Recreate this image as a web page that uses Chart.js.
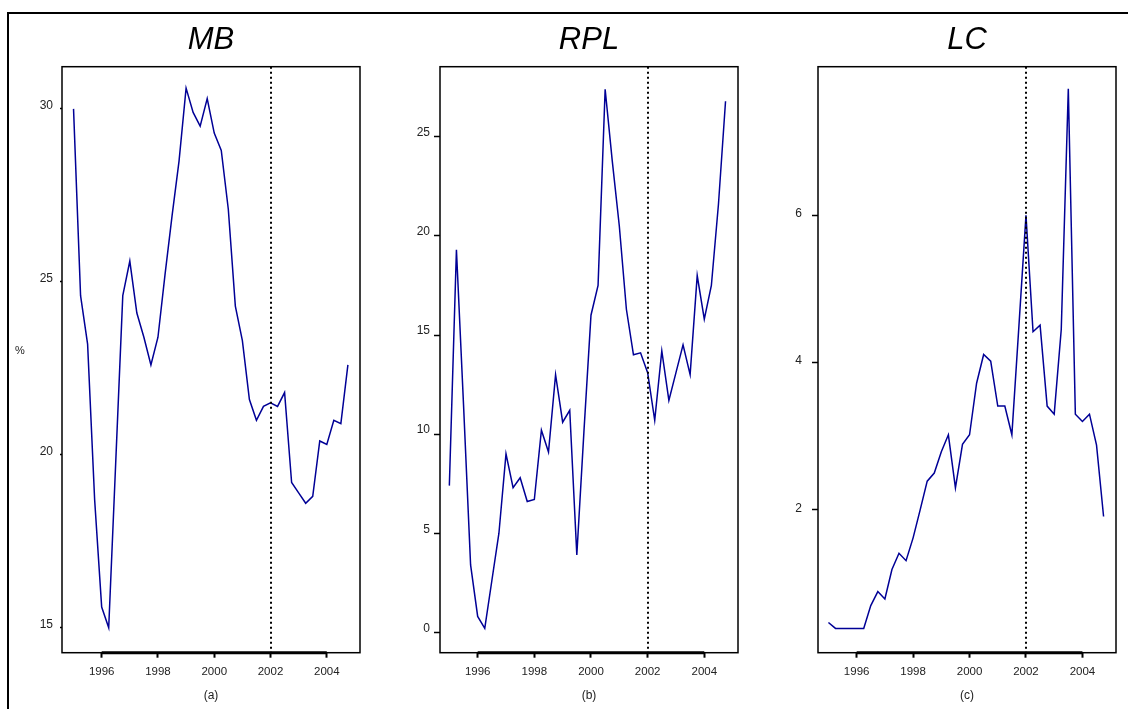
<!DOCTYPE html>
<html>
<head>
<meta charset="utf-8">
<script src="https://cdn.jsdelivr.net/npm/chart.js@4.4.1/dist/chart.umd.min.js"></script>
<style>
  html, body { margin: 0; padding: 0; background: #fff; width: 1128px; height: 709px; overflow: hidden; }
  #frame { position: absolute; left: 7px; top: 12px; width: 1300px; height: 900px; border: 2px solid #000; }
  canvas { position: absolute; top: 0; }
  #pct { position: absolute; left: 15px; top: 344px; font: 11px "Liberation Sans", Arial, sans-serif; color: #222; }
</style>
</head>
<body>
<div id="frame"></div>
<canvas id="mb" width="355" height="709" style="left:7px"></canvas>
<canvas id="rpl" width="355" height="709" style="left:385px"></canvas>
<canvas id="lc" width="355" height="709" style="left:762.7px"></canvas>
<div id="pct">%</div>
<script>
// quarterly data 1995Q1 .. 2004Q4
const years = [1995, 1996, 1997, 1998, 1999, 2000, 2001, 2002, 2003, 2004];
const quarters = [0, 0.25, 0.5, 0.75];

const mbValues = [30.0, 24.6, 23.2, 18.7, 15.6, 15.0, 19.8, 24.6, 25.6, 24.1,
                  23.4, 22.6, 23.4, 25.2, 26.9, 28.5, 30.6, 29.9, 29.5, 30.3,
                  29.3, 28.8, 27.1, 24.3, 23.3, 21.6, 21.0, 21.4, 21.5, 21.4,
                  21.8, 19.2, 18.9, 18.6, 18.8, 20.4, 20.3, 21.0, 20.9, 22.6];
const rplValues = [7.4, 19.3, 11.5, 3.4, 0.8, 0.2, 2.6, 5.0, 9.0, 7.3,
                   7.8, 6.6, 6.7, 10.2, 9.1, 13.0, 10.6, 11.2, 3.9, 10.1,
                   16.0, 17.5, 27.4, 23.8, 20.5, 16.3, 14.0, 14.1, 13.1, 10.7,
                   14.2, 11.7, 13.1, 14.5, 13.0, 18.0, 15.8, 17.5, 21.6, 26.8];
const lcValues = [0.47, 0.39, 0.39, 0.39, 0.39, 0.39, 0.70, 0.89, 0.79, 1.19,
                  1.41, 1.31, 1.62, 2.0, 2.39, 2.50, 2.79, 3.02, 2.30, 2.89,
                  3.02, 3.72, 4.11, 4.02, 3.41, 3.41, 3.02, 4.5, 6.0, 4.42,
                  4.51, 3.41, 3.30, 4.45, 7.72, 3.30, 3.20, 3.30, 2.88, 1.91];

const xTicks = [1996, 1998, 2000, 2002, 2004];
const mbTicks = [15, 20, 25, 30];
const rplTicks = [0, 5, 10, 15, 20, 25];
const lcTicks = [2, 4, 6];
const breakYear = 2002;

const times = [];
years.forEach(y => quarters.forEach(q => times.push(y + q)));

const FONT = '"Liberation Sans", Arial, sans-serif';

// box around plot, thick bottom axis segment, dotted break line
const framePlugin = {
  id: 'frame',
  afterDatasetsDraw(chart) {
    const ctx = chart.ctx;
    const a = chart.chartArea;
    const x = chart.scales.x;
    ctx.save();
    ctx.strokeStyle = '#000';
    ctx.lineWidth = 1.5;
    ctx.strokeRect(a.left, a.top, a.right - a.left, a.bottom - a.top);
    ctx.lineWidth = 3;
    ctx.beginPath();
    ctx.moveTo(x.getPixelForValue(xTicks[0]), a.bottom);
    ctx.lineTo(x.getPixelForValue(xTicks[xTicks.length - 1]), a.bottom);
    ctx.stroke();
    const bx = Math.round(x.getPixelForValue(breakYear));
    ctx.lineWidth = 2;
    ctx.setLineDash([2, 3]);
    ctx.beginPath();
    ctx.moveTo(bx, a.top);
    ctx.lineTo(bx, a.bottom);
    ctx.stroke();
    ctx.restore();
  }
};

function makePanel(id, title, sub, values, yTicks, yMin, yMax, xMin, xMax, yTickLen, yPad, yOff) {
  new Chart(document.getElementById(id), {
    type: 'line',
    data: {
      datasets: [{
        data: values.map((v, i) => ({ x: times[i], y: v })),
        borderColor: '#000096',
        borderWidth: 1.5,
        pointRadius: 0,
        tension: 0
      }]
    },
    options: {
      responsive: false,
      animation: false,
      devicePixelRatio: 1,
      layout: { padding: { left: 0, right: 2, top: 0, bottom: 0 } },
      plugins: {
        legend: { display: false },
        tooltip: { enabled: false },
        title: {
          display: true,
          fullSize: false,
          text: title,
          color: '#000',
          font: { family: FONT, size: 31, style: 'italic', weight: 'normal' },
          padding: { top: 21.4, bottom: 8.1 }
        }
      },
      scales: {
        x: {
          type: 'linear',
          min: xMin,
          max: xMax,
          afterBuildTicks: s => { s.ticks = xTicks.map(v => ({ value: v })); },
          afterFit: s => { s.height = 56.3; },
          border: { display: false },
          grid: { drawOnChartArea: false, drawTicks: true, tickLength: 5, tickColor: '#000', tickWidth: 2 },
          ticks: {
            color: '#222',
            font: { family: FONT, size: 11.5 },
            padding: 7,
            maxRotation: 0,
            callback: v => String(v)
          },
          title: {
            display: true,
            text: sub,
            color: '#222',
            font: { family: FONT, size: 12 },
            padding: { top: 0, bottom: 5.7 }
          }
        },
        y: {
          type: 'linear',
          min: yMin,
          max: yMax,
          afterBuildTicks: s => { s.ticks = yTicks.map(v => ({ value: v })); },
          afterFit: s => { s.width = 55; },
          border: { display: false },
          grid: { drawOnChartArea: false, drawTicks: true, tickLength: yTickLen, tickColor: '#000', tickWidth: 1.5 },
          ticks: {
            color: '#222',
            font: { family: FONT, size: 12 },
            padding: yPad,
            labelOffset: yOff,
            callback: v => String(v)
          }
        }
      }
    },
    plugins: [framePlugin]
  });
}

makePanel('mb', 'MB', '(a)', mbValues, mbTicks, 14.28, 31.22, 1994.59, 2005.18, 2, 7, -3);
makePanel('rpl', 'RPL', '(b)', rplValues, rplTicks, -1.03, 28.54, 1994.67, 2005.19, 6, 4, -4);
makePanel('lc', 'LC', '(c)', lcValues, lcTicks, 0.06, 8.02, 1994.63, 2005.19, 6, 10, -1.5);
</script>
</body>
</html>
